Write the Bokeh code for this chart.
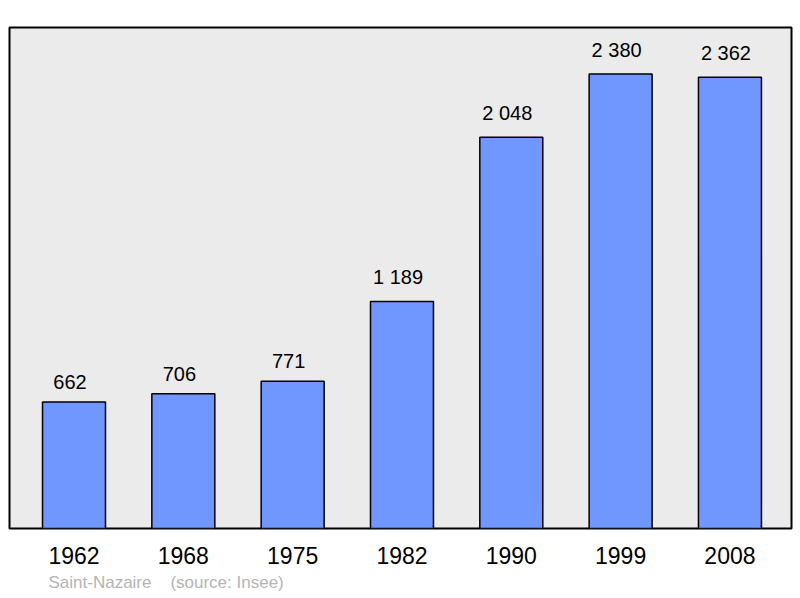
from bokeh.plotting import figure
from bokeh.models import ColumnDataSource, Range1d, Title, FixedTicker
from bokeh.embed import file_html
from bokeh.resources import INLINE
from bokeh.core.properties import value

years = ["1962", "1968", "1975", "1982", "1990", "1999", "2008"]
population = [662, 706, 771, 1189, 2048, 2380, 2362]
value_labels = ["662", "706", "771", "1 189", "2 048", "2 380", "2 362"]
source_note = "Saint-Nazaire\u00a0\u00a0\u00a0\u00a0(source: Insee)"

idx = list(range(len(years)))
src = ColumnDataSource(dict(x=idx, top=population, lab=value_labels))

p = figure(width=800, height=598, output_backend="svg", toolbar_location=None,
           x_range=Range1d(-0.59, 6.563), y_range=Range1d(0, 2623),
           min_border_left=9, min_border_right=9, min_border_top=27, min_border_bottom=70)

p.background_fill_color = "#ebebeb"
p.border_fill_color = "white"
p.outline_line_color = "black"
p.outline_line_width = 2
p.grid.visible = False
p.yaxis.visible = False

p.vbar(x="x", top="top", bottom=0, width=0.576, source=src,
       fill_color="#7096ff", line_color="black", line_width=1.5)
p.text(x="x", y="top", text="lab", source=src, text_align="center",
       text_baseline="bottom", x_offset=-4, y_offset=-13,
       text_font=value("Liberation Sans"),
       text_font_size="20px", text_color="black")

ax = p.xaxis[0]
ax.ticker = FixedTicker(ticks=idx)
ax.major_label_overrides = {i: y for i, y in zip(idx, years)}
ax.axis_line_color = None
ax.major_tick_line_color = None
ax.major_tick_out = 0
ax.major_tick_in = 0
ax.major_label_standoff = 18
ax.major_label_text_font = "Liberation Sans"
ax.major_label_text_font_size = "23px"
ax.major_label_text_color = "black"

t = Title(text=source_note, align="left", offset=39, text_font="Liberation Sans",
          text_font_size="17px", text_color="#b4b4b4", text_font_style="normal",
          standoff=8)
p.add_layout(t, "below")

open("out.html", "w").write(file_html(p, INLINE))
